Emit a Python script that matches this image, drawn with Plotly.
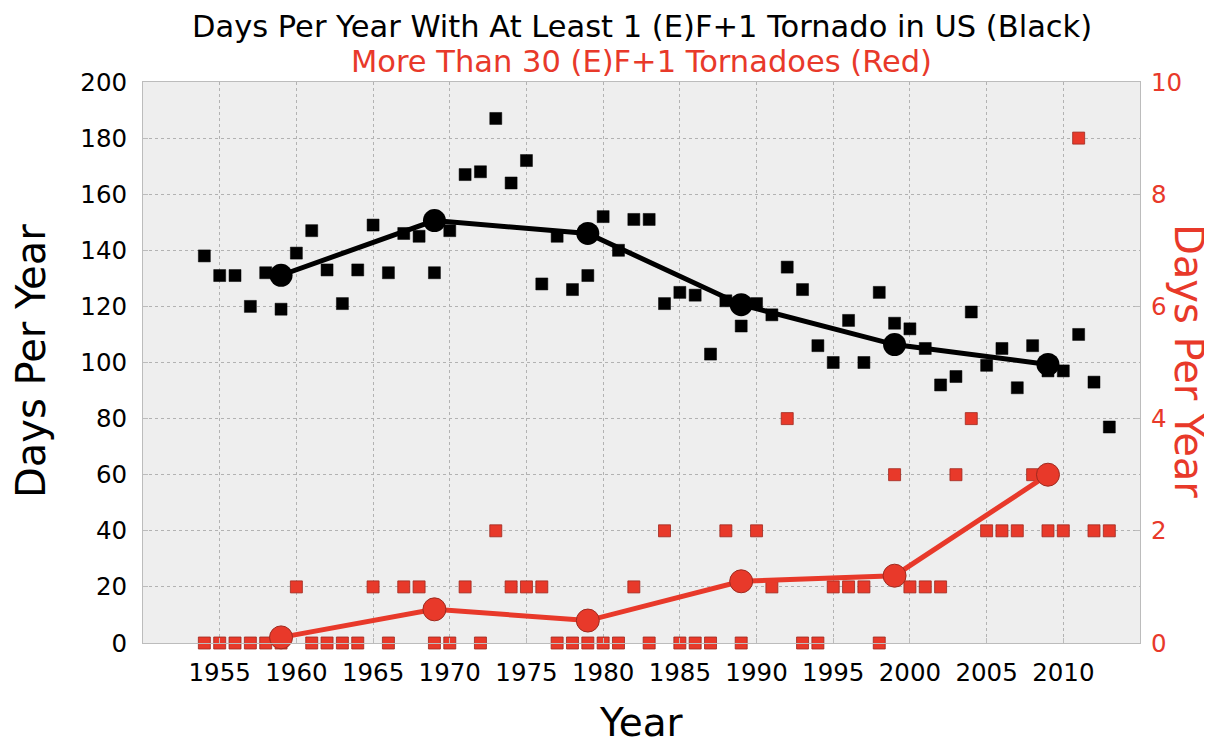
import plotly.graph_objects as go

years = list(range(1954, 2014))

days_any = [138, 131, 131, 120, 132, 119, 139, 147, 133, 121,
            133, 149, 132, 146, 145, 132, 147, 167, 168, 187,
            164, 172, 128, 145, 126, 131, 152, 140, 151, 151,
            121, 125, 124, 103, 122, 113, 121, 117, 134, 126,
            106, 100, 115, 100, 125, 114, 112, 105, 92, 95,
            118, 99, 105, 91, 106, 97, 97, 110, 93, 77]

days_30 = [0, 0, 0, 0, 0, 0, 1, 0, 0, 0,
           0, 1, 0, 1, 1, 0, 0, 1, 0, 2,
           1, 1, 1, 0, 0, 0, 0, 0, 1, 0,
           2, 0, 0, 0, 2, 0, 2, 1, 4, 0,
           0, 1, 1, 1, 0, 3, 1, 1, 1, 3,
           4, 2, 2, 2, 3, 2, 2, 9, 2, 2]

decade_years = [1959, 1969, 1979, 1989, 1999, 2009]
decade_any = [131.1, 150.6, 146.0, 120.6, 106.4, 99.3]
decade_30 = [0.1, 0.6, 0.4, 1.1, 1.2, 3.0]

x_ticks = [1955, 1960, 1965, 1970, 1975, 1980, 1985, 1990, 1995, 2000, 2005, 2010]
left_ticks = [0, 20, 40, 60, 80, 100, 120, 140, 160, 180, 200]
right_ticks = [0, 2, 4, 6, 8, 10]

RED = "#E8392A"
RED_EDGE = "#9E2A1F"
FONT = "DejaVu Sans"
TICK = 24.5

fig = go.Figure()

fig.add_trace(go.Scatter(
    x=years, y=days_any, mode="markers",
    marker=dict(symbol="square", size=12, color="black",
                line=dict(color="black", width=0.5)),
    yaxis="y", showlegend=False, cliponaxis=False))
fig.add_trace(go.Scatter(
    x=decade_years, y=decade_any, mode="lines+markers",
    line=dict(color="black", width=5),
    marker=dict(symbol="circle", size=23, color="black"),
    yaxis="y", showlegend=False, cliponaxis=False))

fig.add_trace(go.Scatter(
    x=years, y=days_30, mode="markers",
    marker=dict(symbol="square", size=12, color=RED,
                line=dict(color=RED_EDGE, width=0.8)),
    yaxis="y2", showlegend=False, cliponaxis=False))
fig.add_trace(go.Scatter(
    x=decade_years, y=decade_30, mode="lines+markers",
    line=dict(color=RED, width=5),
    marker=dict(symbol="circle", size=23, color=RED,
                line=dict(color=RED_EDGE, width=1)),
    yaxis="y2", showlegend=False, cliponaxis=False))

grid = dict(showgrid=True, gridcolor="#b2b2b2", griddash="dot", gridwidth=1)

# page is rendered with an 8px body margin; plot area in page pixels:
PL, PR, PT, PB = 143, 1140, 82, 643
PW, PH = PR - PL, PB - PT


def px(x):
    return (x - PL) / PW


def py(y):
    return (PB - y) / PH


fig.update_layout(
    width=1204, height=738,
    margin=dict(l=PL - 8, r=1212 - PR, t=PT - 8, b=746 - PB),
    paper_bgcolor="white", plot_bgcolor="#eeeeee",
    font=dict(family=FONT, color="black"),
    xaxis=dict(range=[1950, 2015], tickvals=x_ticks, ticktext=[str(v) for v in x_ticks],
               tickfont=dict(size=TICK, family=FONT, color="black"),
               ticks="inside", ticklen=5, tickcolor="#bcbcbc",
               showline=True, linecolor="#bcbcbc", linewidth=1, mirror=True,
               zeroline=False, ticklabelstandoff=8, **grid),
    yaxis=dict(range=[0, 200], tickvals=left_ticks,
               tickfont=dict(size=TICK, family=FONT, color="black"),
               ticks="inside", ticklen=5, tickcolor="#bcbcbc",
               showline=True, linecolor="#bcbcbc", linewidth=1, mirror=True,
               zeroline=False, ticklabelstandoff=10, **grid),
    yaxis2=dict(range=[0, 10], tickvals=right_ticks, overlaying="y", side="right",
                tickfont=dict(size=TICK, family=FONT, color=RED),
                ticks="inside", ticklen=5, tickcolor="#bcbcbc",
                showgrid=False, zeroline=False, ticklabelstandoff=10),
    annotations=[
        dict(text="Days Per Year With At Least 1 (E)F+1 Tornado in US (Black)",
             x=0.5, y=py(27), xref="paper", yref="paper", showarrow=False,
             xanchor="center", yanchor="middle",
             font=dict(size=30.5, family=FONT, color="black")),
        dict(text="More Than 30 (E)F+1 Tornadoes (Red)",
             x=0.5, y=py(61), xref="paper", yref="paper", showarrow=False,
             xanchor="center", yanchor="middle",
             font=dict(size=30.5, family=FONT, color=RED)),
        dict(text="Days Per Year", x=px(31), y=py(361), xref="paper", yref="paper",
             textangle=-90, showarrow=False, xanchor="center", yanchor="middle",
             font=dict(size=40, family=FONT, color="black")),
        dict(text="Days Per Year", x=px(1189), y=py(361), xref="paper", yref="paper",
             textangle=90, showarrow=False, xanchor="center", yanchor="middle",
             font=dict(size=40, family=FONT, color=RED)),
        dict(text="Year", x=0.5, y=py(722), xref="paper", yref="paper",
             showarrow=False, xanchor="center", yanchor="middle",
             font=dict(size=39, family=FONT, color="black")),
    ],
)

fig.write_html("out.html")
